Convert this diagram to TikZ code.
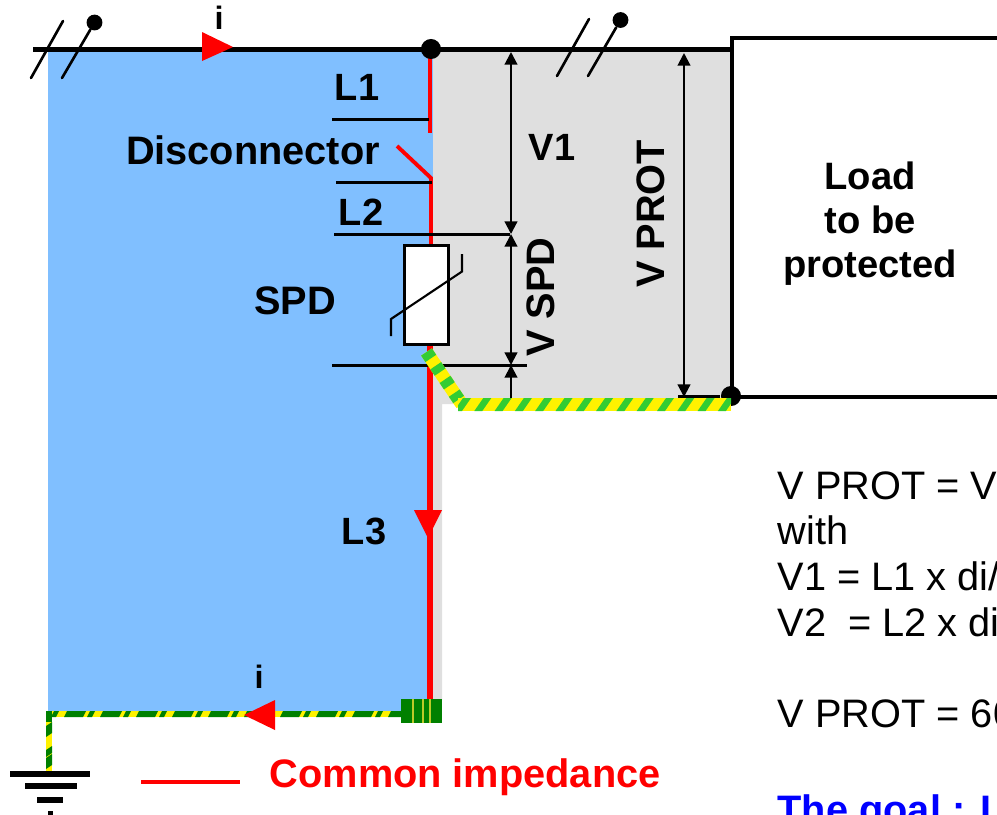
\documentclass[tikz,border=0pt]{standalone}
\usepackage{fontspec}
\setmainfont{Liberation Sans}
\usetikzlibrary{arrows.meta}
\definecolor{spdblue}{RGB}{128,191,255}
\definecolor{spdgrey}{RGB}{223,223,223}
\definecolor{earthlight}{RGB}{51,204,51}
\definecolor{earthdark}{RGB}{0,128,0}
\definecolor{goalblue}{RGB}{0,0,255}
\tikzset{
  wire/.style={line width=1.5pt},
  level/.style={line width=0.85pt},
  tick/.style={line width=0.75pt,line cap=round},
  redwire/.style={red,line width=1.1pt},
  tiptop/.style={{Triangle[length=3.6pt,width=3.6pt]}-},
  measure/.style={line width=0.6pt,{Triangle[length=3.6pt,width=3.6pt]}-{Triangle[length=3.6pt,width=3.6pt]}},
  dot/.style={circle,fill=black,inner sep=0pt},
  label/.style={font=\fontsize{11.3}{13}\selectfont\bfseries,inner sep=0pt},
  small label/.style={font=\fontsize{10.8}{13}\selectfont\bfseries,inner sep=0pt},
  plain/.style={font=\fontsize{11.3}{13}\selectfont,inner sep=0pt,anchor=base west},
}
\begin{document}
\begin{tikzpicture}[x=0.01cm,y=-0.01cm]
  \useasboundingbox (0,0) rectangle (997,814);
  \clip (0,0) rectangle (997,814);

  % Coloured areas
  \fill[spdgrey] (430,50) -- (732,50) -- (732,404) -- (442,404) -- (442,700) -- (430,700) -- cycle;
  \fill[spdblue] (48,50) rectangle (433,712);

  % Named points
  \coordinate (wireW) at (33,49.5);
  \coordinate (loadNW) at (732,38);
  \coordinate (loadSW) at (732,397);
  \coordinate (wireE) at (732,49.5);
  \coordinate (loadNE) at (1005,38);
  \coordinate (loadSE) at (1005,397);
  \coordinate (protW) at (678,396);
  \coordinate (redTop) at (430,50);
  \coordinate (redGap) at (430,133);
  \coordinate (discA) at (397,146);
  \coordinate (discB) at (431,178);
  \coordinate (redMid) at (431,245);
  \coordinate (redLow) at (430,346);
  \coordinate (redEnd) at (430,699);

  % Load
  \node[dot,minimum size=5.7pt] (joinB) at (731,396) {};
  \draw[line width=1.15pt] (loadNE) -- (loadNW) -- (loadSW) -- (loadSE);
  \draw[wire] (wireW) -- (wireE);
  \node[align=center,inner sep=0pt,font=\fontsize{10.85}{12.5}\selectfont\bfseries] (load) at (870,224) {Load\\to be\\protected};

  % Red conductor
  \draw[redwire] (redTop) -- (redGap);
  \draw[redwire] (discA) -- (discB) -- (redMid);
  \draw[red,line width=1.7pt] (redLow) -- (redEnd);
  \node[dot,minimum size=5.7pt] (joinA) at (431,49) {};
  \fill[red] (414,510) -- (442,510) -- (428,538) -- cycle;

  % Level lines
  \coordinate (l1W) at (332,119);
  \coordinate (l1E) at (429,119);
  \coordinate (l2W) at (336,182);
  \coordinate (l2E) at (432,182);
  \coordinate (l3W) at (334,234);
  \coordinate (l3E) at (510,234);
  \coordinate (l4W) at (332,365);
  \coordinate (l4E) at (527,365);
  \draw[level] (l1W) -- (l1E);
  \draw[level] (l2W) -- (l2E);
  \draw[level] (l3W) -- (l3E);
  \draw[level] (l4W) -- (l4E);

  % Voltages
  \coordinate (v1Top) at (511,52);
  \coordinate (vTop) at (511,234);
  \coordinate (vLow) at (511,365);
  \coordinate (vEnd) at (511,399);
  \coordinate (protTop) at (684,53);
  \coordinate (protEnd) at (684,397);
  \draw[measure] (v1Top) -- (vTop);
  \draw[measure] (vTop) -- (vLow);
  \draw[line width=0.6pt,tiptop] (vLow) -- (vEnd);
  \draw[measure] (protTop) -- (protEnd);
  \draw[line width=0.85pt] (protW) -- (joinB);
  \node[small label] (v1) at (552,147) {V1};
  \node[label,rotate=90] (vspd) at (541,297) {V SPD};
  \node[label,rotate=90] (vprot) at (651,214) {V PROT};

  % SPD
  \node[draw=black,fill=white,line width=0.85pt,inner sep=0pt,minimum width=0.43cm,minimum height=0.99cm] (spd) at (426.5,295) {};
  \coordinate (varA) at (391,336);
  \coordinate (varB) at (391,319);
  \coordinate (varC) at (462,271.5);
  \coordinate (varD) at (462,254);
  \draw[line width=0.6pt] (varA) -- (varB) -- (varC) -- (varD);

  % Earth conductor, upper part
  \coordinate (diagA) at (426.5,352);
  \coordinate (diagB) at (462,404.5);
  \draw[yellow,line width=3.7pt] (diagA) -- (diagB);
  \draw[earthlight,line width=3.7pt,dash pattern=on 2.2pt off 2.5pt] (diagA) -- (diagB);
  \begin{scope}
    \clip (458,398) rectangle (731,411);
    \fill[yellow] (458,398) rectangle (731,411);
    \foreach \i in {0,...,14}
      \fill[earthlight] ({458+20.3*\i-4},411) -- ++(8,0) -- ++(9,-13) -- ++(-8,0) -- cycle;
  \end{scope}

  % Earth conductor, lower part
  \coordinate (earthE) at (402,714);
  \coordinate (earthC) at (49,714);
  \coordinate (earthS) at (49,771);
  \draw[yellow,line width=1.7pt] (earthE) -- (earthC) -- (earthS);
  \begin{scope}
    \clip (46,711) rectangle (402,717);
    \foreach \i in {0,...,9} {
      \fill[earthdark] ({64+36*\i},717) -- ++(19,0) -- ++(3,-6) -- ++(-19,0) -- cycle;
      \fill[earthdark] ({51+36*\i},717) -- ++(5,0) -- ++(3,-6) -- ++(-5,0) -- cycle;
    }
  \end{scope}
  \begin{scope}
    \clip (46,711) rectangle (52,771);
    \fill[earthdark] (46,711) rectangle (52,722);
    \fill[earthdark] (46,726) -- (52,722) -- (52,733) -- (46,737) -- cycle;
    \fill[earthdark] (46,750) -- (52,746) -- (52,753) -- (46,757) -- cycle;
    \fill[earthdark] (46,758) -- (52,754) -- (52,765) -- (46,769) -- cycle;
  \end{scope}
  \fill[earthdark] (401,699) rectangle (442,723);
  \foreach \x in {413,423,430}
    \draw[yellow!70!earthdark,line width=0.3pt] (\x,699) -- (\x,723);

  % Earth symbol
  \coordinate (g1W) at (10,774);
  \coordinate (g1E) at (90,774);
  \coordinate (g2W) at (25,786);
  \coordinate (g2E) at (77,786);
  \coordinate (g3W) at (37,800);
  \coordinate (g3E) at (63,800);
  \coordinate (g4W) at (48,814);
  \coordinate (g4E) at (53,814);
  \draw[line width=1.6pt] (g1W) -- (g1E);
  \draw[line width=1.5pt] (g2W) -- (g2E);
  \draw[line width=1.5pt] (g3W) -- (g3E);
  \draw[line width=1.5pt] (g4W) -- (g4E);

  % Phase marks
  \coordinate (s1A) at (31,78);
  \coordinate (s1B) at (63,21);
  \coordinate (s2A) at (62,78);
  \node[dot,minimum size=4.5pt] (s2B) at (94.5,22.5) {};
  \coordinate (s3A) at (557,76);
  \coordinate (s3B) at (589,19);
  \coordinate (s4A) at (588,76);
  \node[dot,minimum size=4.5pt] (s4B) at (620.5,20) {};
  \draw[tick] (s1A) -- (s1B);
  \draw[tick] (s2A) -- (s2B);
  \draw[tick] (s3A) -- (s3B);
  \draw[tick] (s4A) -- (s4B);

  % Current
  \fill[red] (202,32) -- (233,47) -- (202,61) -- cycle;
  \fill[red] (275,700) -- (244,715) -- (275,730) -- cycle;
  \node[small label,font=\fontsize{9.2}{11}\selectfont\bfseries] (itop) at (219,18) {i};
  \node[small label,font=\fontsize{9.2}{11}\selectfont\bfseries] (ibot) at (259,677) {i};

  % Labels
  \node[small label] (l1) at (357,87) {L1};
  \node[small label] (l2) at (361,212) {L2};
  \node[small label] (l3) at (364,531) {L3};
  \node[label] (disc) at (253,150) {Disconnector};
  \node[label] (spdtxt) at (295,301) {SPD};

  % Legend
  \coordinate (keyW) at (141,782);
  \coordinate (keyE) at (240,782);
  \draw[redwire] (keyW) -- (keyE);
  \node[label,text=red,anchor=west] (common) at (269,777) {Common impedance};

  % Formulas
  \node[plain] (f1) at (777,499) {V PROT = V};
  \node[plain] (f2) at (777,544.5) {with};
  \node[plain] (f3) at (777,590.5) {V1 = L1 x di/};
  \node[plain] (f4) at (777,636) {V2\ \ = L2 x di};
  \node[plain] (f5) at (777,727.5) {V PROT = 60};
  \node[plain,font=\fontsize{11.3}{13}\selectfont\bfseries,text=goalblue] (goal) at (777,823.5) {The goal : L};
\end{tikzpicture}
\end{document}
